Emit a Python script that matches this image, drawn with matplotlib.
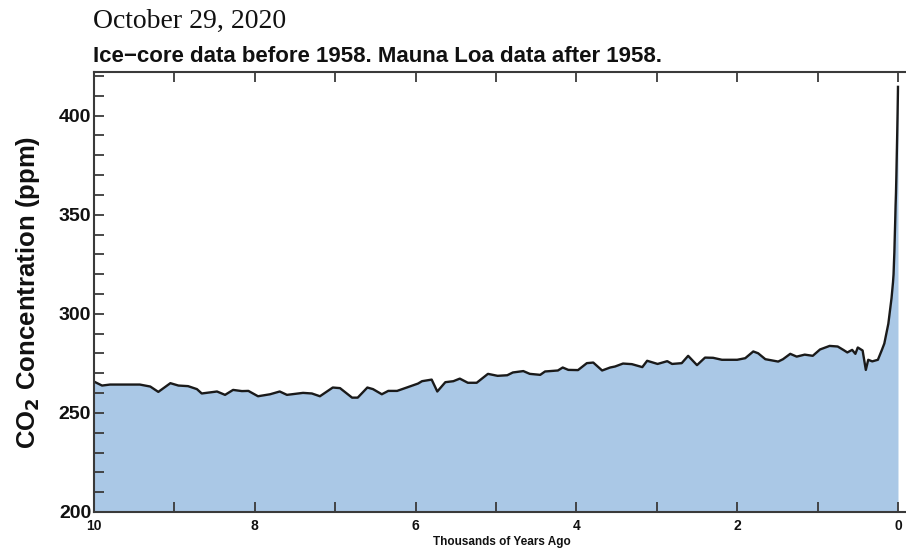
import matplotlib
matplotlib.use("Agg")
import matplotlib.pyplot as plt
from matplotlib.ticker import FixedLocator, FuncFormatter
import numpy as np

# Thousands of years before present (2020) and CO2 in ppm
kyr_ago = [
    10.00, 9.90, 9.80, 9.43, 9.30, 9.20, 9.05, 8.95, 8.83, 8.72,
    8.66, 8.47, 8.37, 8.27, 8.16, 8.08, 7.96, 7.81, 7.69, 7.60,
    7.40, 7.29, 7.19, 7.03, 6.94, 6.79, 6.72, 6.60, 6.53, 6.42,
    6.34, 6.23, 6.11, 5.97, 5.92, 5.80, 5.73, 5.63, 5.53, 5.45,
    5.35, 5.24, 5.10, 4.98, 4.86, 4.79, 4.66, 4.58, 4.45, 4.39,
    4.23, 4.17, 4.10, 3.98, 3.87, 3.79, 3.68, 3.58, 3.52, 3.42,
    3.31, 3.18, 3.12, 2.99, 2.87, 2.81, 2.69, 2.61, 2.50, 2.40,
    2.30, 2.19, 2.00, 1.90, 1.80, 1.74, 1.65, 1.49, 1.43, 1.34,
    1.26, 1.16, 1.06, 0.97, 0.85, 0.75, 0.68, 0.63, 0.57, 0.53,
    0.50, 0.44, 0.40, 0.37, 0.32, 0.25, 0.20, 0.17, 0.12, 0.08,
    0.062, 0.055, 0.050, 0.045, 0.040, 0.035, 0.030, 0.025, 0.020,
    0.015, 0.010, 0.005, 0.001, 0.000,
]
co2_ppm = [
    265.8, 263.8, 264.3, 264.3, 263.3, 260.6, 265.0, 263.8, 263.5, 262.0,
    259.8, 260.8, 259.1, 261.6, 261.0, 261.1, 258.4, 259.4, 260.8, 259.1,
    260.1, 259.8, 258.4, 262.8, 262.5, 257.7, 257.7, 262.8, 262.0, 259.4,
    261.1, 261.1, 262.8, 264.8, 266.0, 266.8, 260.8, 265.5, 266.0, 267.3,
    265.2, 265.2, 269.7, 268.7, 269.0, 270.4, 271.1, 269.7, 269.2, 270.9,
    271.4, 272.9, 271.7, 271.6, 275.1, 275.4, 271.4, 272.9, 273.4, 274.9,
    274.6, 273.1, 276.3, 274.7, 276.1, 274.7, 275.1, 278.8, 274.1, 277.9,
    277.8, 276.8, 276.8, 277.6, 281.0, 280.1, 277.1, 275.9, 277.1, 279.8,
    278.4, 279.4, 278.8, 282.0, 283.8, 283.5, 281.8, 280.5, 281.8, 279.8,
    283.0, 281.5, 271.7, 276.8, 276.0, 276.8, 281.8, 285.0, 295.0, 308.0,
    315.9, 320.0, 325.7, 331.1, 338.8, 346.1, 354.4, 360.8, 369.7,
    380.0, 389.9, 401.0, 411.4, 414.5,
]

x_ticks = list(range(0, 11))
x_labels = {0: "0", 2: "2", 4: "4", 6: "6", 8: "8", 10: "10"}
y_ticks = list(range(200, 430, 10))
y_labels = {200: "200", 250: "250", 300: "300", 350: "350", 400: "400"}

fill_color = "#aac8e6"
axis_color = "#3a3a3a"

fig = plt.figure(figsize=(9.06, 5.53), dpi=100)
ax = fig.add_axes([94 / 906, 41 / 553, (909 - 94) / 906, 440 / 553])

x = np.array(kyr_ago)
y = np.array(co2_ppm)
ax.fill_between(x, 200, y, color=fill_color, linewidth=0, zorder=1)
ax.plot(x, y, color="#1a1a1a", linewidth=1.7, zorder=2, solid_joinstyle="round")

ax.set_xlim(10, -0.137)
ax.set_ylim(200, 422)

ax.xaxis.set_major_locator(FixedLocator(x_ticks))
ax.xaxis.set_major_formatter(FuncFormatter(lambda v, p: x_labels.get(int(round(v)), "")))
ax.yaxis.set_major_locator(FixedLocator(y_ticks))
ax.yaxis.set_major_formatter(FuncFormatter(lambda v, p: y_labels.get(int(round(v)), "")))

ax.tick_params(axis="both", direction="in", length=7, width=1.3, color=axis_color,
               top=True, right=False)
ax.tick_params(axis="x", labelsize=10, pad=5)
ax.tick_params(axis="y", labelsize=14, pad=2)
for lab in ax.get_xticklabels() + ax.get_yticklabels():
    lab.set_fontweight("bold")
    lab.set_family("Liberation Sans")
    lab.set_color("#111111")

for side in ["left", "bottom", "top", "right"]:
    ax.spines[side].set_color(axis_color)
    ax.spines[side].set_linewidth(1.5)

ax.set_xlabel("Thousands of Years Ago", fontsize=8.5, fontweight="bold",
              family="Liberation Sans", labelpad=2, color="#111111")
ax.set_ylabel(r"CO$_\mathbf{2}$ Concentration (ppm)", fontsize=18.5, fontweight="bold",
              family="Liberation Sans", labelpad=12, color="#111111")

fig.text(93 / 906, 1 - 28 / 553, "October 29, 2020", family="Liberation Serif",
         fontsize=20, color="#111111", ha="left", va="baseline")
fig.text(93 / 906, 1 - 62 / 553, "Ice\u2212core data before 1958. Mauna Loa data after 1958.",
         family="Liberation Sans", fontweight="bold", fontsize=16, color="#111111",
         ha="left", va="baseline")

fig.savefig("out.png", dpi=100)
